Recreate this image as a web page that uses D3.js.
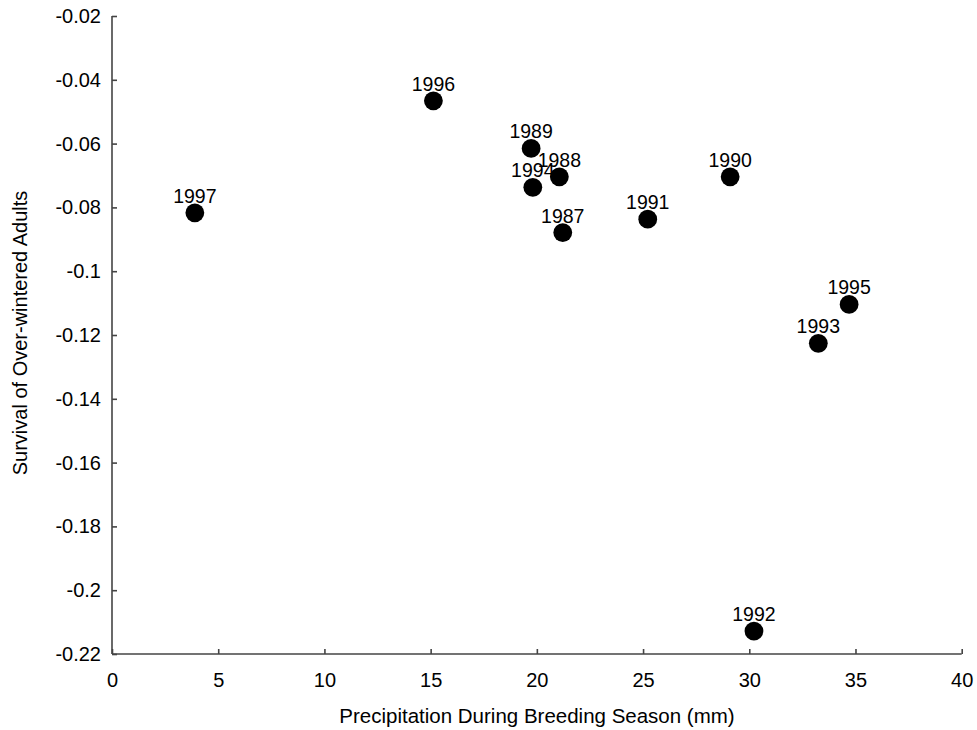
<!DOCTYPE html>
<html><head><meta charset="utf-8">
<script src="https://cdn.jsdelivr.net/npm/d3@7"></script>
<style>body{margin:0;background:#fff}svg{display:block}text{font-family:"Liberation Sans",Arial,sans-serif;fill:#000}</style>
</head><body><svg id="c" width="977" height="730"></svg>
<script>
const years = ["1997","1996","1989","1988","1994","1987","1991","1990","1995","1993","1992"];
const precip = [3.9, 15.13, 19.73, 21.06, 19.81, 21.22, 25.22, 29.1, 34.7, 33.25, 30.22];
const survival = [-0.0817, -0.0466, -0.0615, -0.0704, -0.0737, -0.0879, -0.0837, -0.0704, -0.1104, -0.1226, -0.2128];
const xTicks = [0,5,10,15,20,25,30,35,40];
const yTicks = [-0.02,-0.04,-0.06,-0.08,-0.1,-0.12,-0.14,-0.16,-0.18,-0.2,-0.22];

const svg = d3.select("#c");
const L = 112, R = 961.7, T = 16, B = 654;
const x = d3.scaleLinear().domain([0,40]).range([L,R]);
const y = d3.scaleLinear().domain([-0.22,-0.02]).range([B,T]);

const xa = svg.append("g").attr("transform",`translate(0,${B})`)
  .call(d3.axisBottom(x).tickValues(xTicks).tickSizeInner(-5).tickSizeOuter(0).tickPadding(19).tickFormat(d3.format("d")));
const ya = svg.append("g").attr("transform",`translate(${L},0)`)
  .call(d3.axisLeft(y).tickValues(yTicks).tickSizeInner(-5).tickSizeOuter(0).tickPadding(11).tickFormat(d=>String(+d.toFixed(2))));
[xa,ya].forEach(a=>{
  a.selectAll("path,line").attr("stroke","#444").attr("stroke-width",1.6);
  a.selectAll("text").attr("font-size",20).attr("fill","#000").attr("font-family",'"Liberation Sans",Arial,sans-serif');
});
ya.select("path").attr("d",`M0,${T}V${B}`);
xa.select("path").attr("d",`M${L},0H${R}`);

svg.append("text").attr("x",537).attr("y",723).attr("text-anchor","middle").attr("font-size",20.5)
  .text("Precipitation During Breeding Season (mm)");
svg.append("text").attr("transform","translate(27,333) rotate(-90)").attr("text-anchor","middle").attr("font-size",20)
  .text("Survival of Over-wintered Adults");

const pts = years.map((yr,i)=>({yr, px:precip[i], sv:survival[i]}));
svg.append("g").selectAll("circle").data(pts).join("circle")
  .attr("cx",d=>x(d.px)).attr("cy",d=>y(d.sv)).attr("r",9.4).attr("fill","#000");
svg.append("g").selectAll("text").data(pts).join("text")
  .attr("x",d=>x(d.px)).attr("y",d=>y(d.sv)-10).attr("text-anchor","middle").attr("font-size",19.5)
  .text(d=>d.yr);
</script></body></html>
